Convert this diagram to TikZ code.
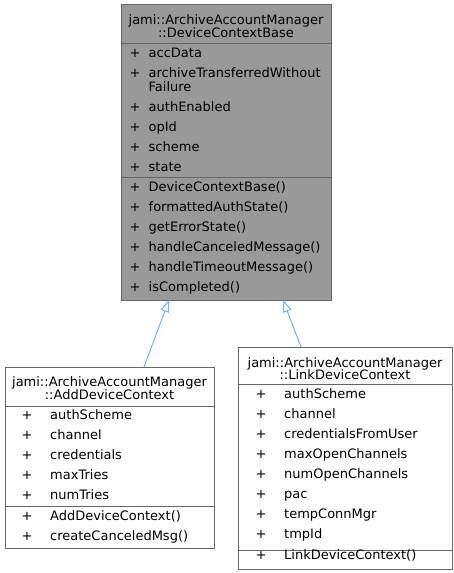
\documentclass[tikz,border=0pt]{standalone}
\usepackage{fontspec}
\setmainfont{DejaVu Sans}
\usetikzlibrary{arrows.meta,calc,positioning}
\definecolor{basegray}{HTML}{999999}
\definecolor{edgegray}{HTML}{666666}
\definecolor{inheritblue}{HTML}{63B8FF}
\begin{document}
\begin{tikzpicture}[x=1pt,y=-1pt,
        font=\fontsize{13}{12.8}\selectfont,
        part/.style={draw=edgegray,line width=1pt,outer sep=0pt,inner sep=0pt,anchor=north west},
        title/.style={anchor=north,inner sep=0pt,align=center},
        row/.style={anchor=base west,inner sep=0pt},
        inherit/.style={draw=inheritblue,line width=1pt,-{Triangle[open,length=12pt,width=9pt]}}]
    \useasboundingbox (0,0) rectangle (453,573);
    \node at(121,4)[part,fill=basegray,minimum width=210pt,minimum height=39pt](base){};
    \node[part,fill=basegray,minimum width=210pt,minimum height=134pt,below=0pt of base](baseattr){};
    \node[part,fill=basegray,minimum width=210pt,minimum height=123pt,below=0pt of baseattr](basemeth){};
    \node at(226,14.5)[title](basetitle){jami::ArchiveAccountManager\\::DeviceContextBase};
    \foreach \y/\p/\t[count=\i] in {
        57/+/accData,
        77/+/archiveTransferredWithout,
        91//Failure,
        111/+/authEnabled,
        131/+/opId,
        151/+/scheme,
        171/+/state,
        191/+/DeviceContextBase(),
        211/+/formattedAuthState(),
        231/+/getErrorState(),
        251/+/handleCanceledMessage(),
        271/+/handleTimeoutMessage(),
        291/+/isCompleted()
    }
    \node at(129.5,\y)[row](basep\i){\p}
        node at(148.5,\y)[row](baset\i){\t};
    \node at(5,367)[part,fill=white,minimum width=209pt,minimum height=39pt](add){};
    \node[part,minimum width=209pt,minimum height=100pt,below=0pt of add](addattr){};
    \node[part,minimum width=209pt,minimum height=42pt,below=0pt of addattr](addmeth){};
    \node at(109.5,376.5)[title](addtitle){jami::ArchiveAccountManager\\::AddDeviceContext};
    \foreach \y/\t[count=\i] in {
        419/authScheme,
        439/channel,
        459/credentials,
        479/maxTries,
        499/numTries,
        520/AddDeviceContext(),
        540/createCanceledMsg()
    }
    \node at(21.5,\y)[row](addp\i){+}
        node at(50,\y)[row](addt\i){\t};
    \node at(238,347)[part,fill=white,minimum width=214pt,minimum height=37pt](link){};
    \node[part,minimum width=214pt,minimum height=166pt,below=0pt of link](linkattr){};
    \node[part,minimum width=214pt,minimum height=19pt,below=0pt of linkattr](linkmeth){};
    \node at(345,357)[title](linktitle){jami::ArchiveAccountManager\\::LinkDeviceContext};
    \foreach \y/\t[count=\i] in {
        398.5/authScheme,
        418.5/channel,
        438.5/credentialsFromUser,
        458.5/maxOpenChannels,
        478.5/numOpenChannels,
        498.5/pac,
        518.5/tempConnMgr,
        538.5/tmpId,
        559.5/LinkDeviceContext()
    }
    \node at(255.5,\y)[row](linkp\i){+}
        node at(284,\y)[row](linkt\i){\t};
    \draw[inherit] ($(add.north)+(34.5,0)$) -- ($(basemeth.south)+(-57,0)$);
    \draw[inherit] ($(link.north)+(-44,0)$) -- ($(basemeth.south)+(57,0)$);
\end{tikzpicture}
\end{document}
